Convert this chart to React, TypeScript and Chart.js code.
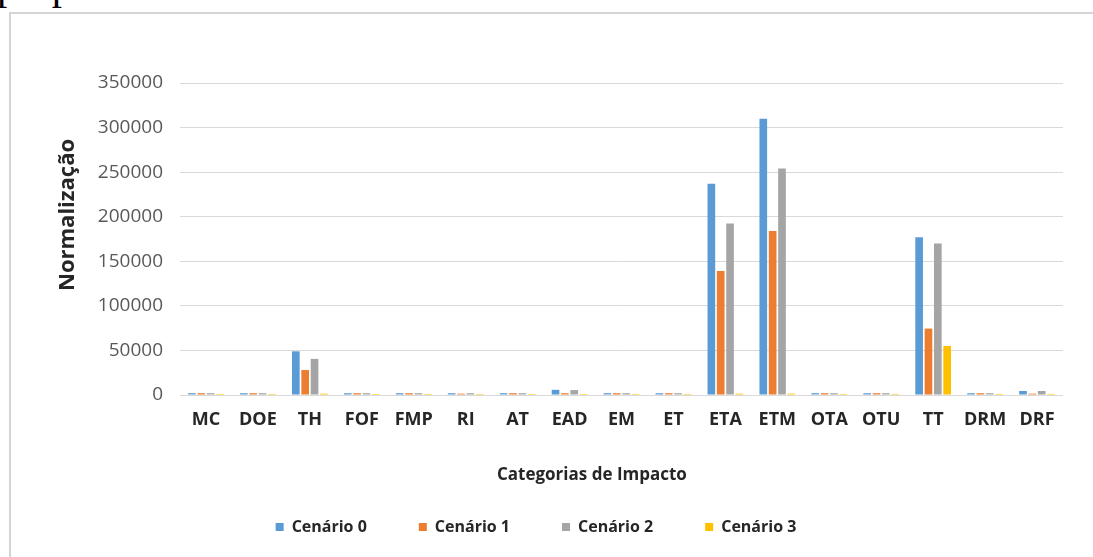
import React, { useEffect, useRef } from "react";
import { Chart, registerables } from "chart.js";

Chart.register(...registerables);

const categories = ["MC", "DOE", "TH", "FOF", "FMP", "RI", "AT", "EAD", "EM", "ET", "ETA", "ETM", "OTA", "OTU", "TT", "DRM", "DRF"];
const seriesLabels = ["Cenário 0", "Cenário 1", "Cenário 2", "Cenário 3"];
const cenario0 = [2000, 2000, 49000, 2000, 2000, 2000, 2000, 5800, 2000, 2000, 237000, 310000, 2000, 2000, 177000, 2000, 4500];
const cenario1 = [2000, 2000, 28000, 2000, 2000, 1500, 2000, 2000, 2000, 2000, 139000, 184000, 2000, 2000, 74500, 2000, 1500];
const cenario2 = [2000, 2000, 40500, 2000, 2000, 2000, 2000, 5500, 2000, 2000, 192500, 254000, 2000, 2000, 170000, 2000, 4500];
const cenario3 = [1200, 1200, 1500, 1200, 1200, 1200, 1200, 1200, 1200, 1200, 1500, 1500, 1200, 1200, 55000, 1200, 1200];
const seriesColors = ["#5B9BD5", "#ED7D31", "#A5A5A5", "#FFC000"];
const yMin = 0;
const yMax = 350000;
const yStep = 50000;
const yAxisTitle = "Normalização";
const xAxisTitle = "Categorias de Impacto";
const headerText = "propostos.";

const axisTitlePlugin = {
  id: "axisTitles",
  afterDraw(chart: any) {
    const { ctx, chartArea } = chart;
    ctx.save();
    ctx.fillStyle = "#262626";
    ctx.textAlign = "center";
    ctx.textBaseline = "middle";
    ctx.font = "bold 22px 'Open Sans'";
    ctx.translate(chartArea.left - 112, chartArea.top + chartArea.height * 0.423);
    ctx.rotate(-Math.PI / 2);
    ctx.fillText(yAxisTitle, 0, 0);
    ctx.restore();

    ctx.save();
    ctx.fillStyle = "#262626";
    ctx.textAlign = "center";
    ctx.textBaseline = "middle";
    ctx.font = "bold 17px 'Open Sans'";
    ctx.fillText(xAxisTitle, chartArea.left + chartArea.width * 0.4665, chartArea.bottom + 80);
    ctx.restore();
  },
};

export default function App() {
  const canvasRef = useRef<HTMLCanvasElement | null>(null);

  useEffect(() => {
    if (!canvasRef.current) return;
    const series = [cenario0, cenario1, cenario2, cenario3];
    const chart = new Chart(canvasRef.current, {
      type: "bar",
      data: {
        labels: categories,
        datasets: series.map((d, i) => ({
          label: seriesLabels[i],
          data: d,
          backgroundColor: seriesColors[i],
          borderWidth: 0,
          categoryPercentage: 0.72,
          barPercentage: 0.82,
        })),
      },
      options: {
        responsive: false,
        animation: false,
        layout: { padding: { top: 83, left: 29, right: 30, bottom: 12 } },
        plugins: {
          tooltip: { enabled: false },
          legend: {
            position: "bottom",
            labels: {
              boxWidth: 8,
              boxHeight: 8,
              padding: 52,
              color: "#262626",
              font: { family: "'Open Sans'", size: 16, weight: "bold" },
            },
          },
        },
        scales: {
          x: {
            grid: { display: false },
            border: { display: false },
            ticks: {
              color: "#262626",
              padding: 6,
              maxRotation: 0,
              autoSkip: false,
              font: { family: "'Open Sans'", size: 18, weight: "bold" },
            },
            afterFit: (scale: any) => {
              scale.height = 72;
            },
          },
          y: {
            min: yMin,
            max: yMax,
            grid: { color: "#d9d9d9", drawTicks: false, lineWidth: 1 },
            border: { display: false },
            ticks: {
              stepSize: yStep,
              padding: 17,
              color: "#595959",
              font: { family: "'Open Sans'", size: 19 },
              callback: (v: any) => String(v),
            },
            afterFit: (scale: any) => {
              scale.width = 171;
            },
          },
        },
      },
      plugins: [axisTitlePlugin],
    });
    return () => chart.destroy();
  }, []);

  return (
    <div
      style={{
        position: "fixed",
        left: 0,
        top: 0,
        width: 1093,
        height: 557,
        overflow: "hidden",
        background: "#ffffff",
      }}
    >
      <div
        style={{
          position: "absolute",
          left: -3,
          top: -35,
          fontFamily: "'Liberation Serif', 'Times New Roman', serif",
          fontSize: 41,
          lineHeight: "41px",
          color: "#000",
          whiteSpace: "nowrap",
        }}
      >
        {headerText}
      </div>
      <div
        style={{
          position: "absolute",
          left: 9,
          top: 12,
          width: 1200,
          height: 700,
          borderLeft: "2px solid #d4d4d4",
          borderTop: "2px solid #d4d4d4",
        }}
      />
      <canvas
        ref={canvasRef}
        width={1113}
        height={557}
        style={{ position: "absolute", left: -20, top: 0, width: 1113, height: 557 }}
      />
    </div>
  );
}
